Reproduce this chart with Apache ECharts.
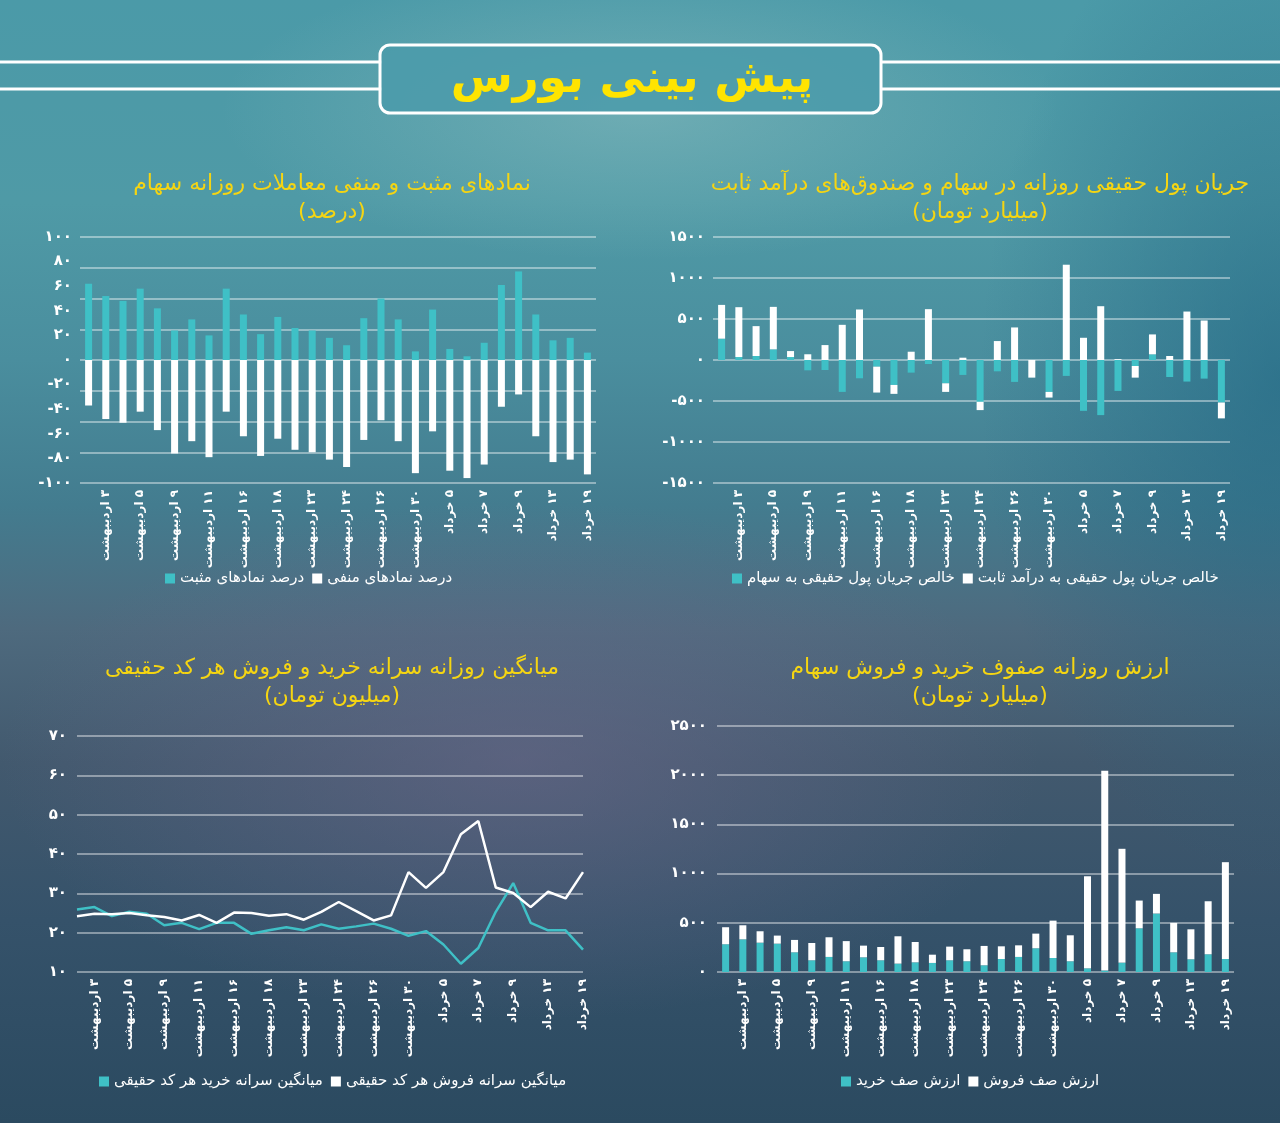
<!DOCTYPE html>
<html><head><meta charset="utf-8">
<script src="https://cdn.jsdelivr.net/npm/echarts@6/dist/echarts.min.js"></script>
<style>
html,body{margin:0;padding:0;width:1280px;height:1123px;overflow:hidden;}
#bg{position:absolute;left:0;top:0;width:1280px;height:1123px;
background:
 radial-gradient(ellipse 420px 150px at 640px 110px, rgba(150,195,195,0.45), rgba(150,195,195,0) 100%),
 radial-gradient(ellipse 520px 260px at 520px 760px, rgba(110,105,140,0.55), rgba(110,105,140,0) 100%),
 radial-gradient(ellipse 300px 500px at 1280px 380px, rgba(30,100,130,0.6), rgba(30,100,130,0) 100%),
 linear-gradient(180deg,#4b9aa8 0%,#4f9aa6 18%,#4a8e9e 32%,#437c8f 45%,#4e6a7e 56%,#42596e 68%,#35526a 82%,#2b4a60 100%);}
#c{position:absolute;left:0;top:0;width:1280px;height:1123px;}
</style></head>
<body><div id="bg"></div><div id="c"></div>
<script>
const categories = ['۲ اردیبهشت','۳ اردیبهشت','۴ اردیبهشت','۵ اردیبهشت','۸ اردیبهشت','۹ اردیبهشت','۱۰ اردیبهشت','۱۱ اردیبهشت','۱۵ اردیبهشت','۱۶ اردیبهشت','۱۷ اردیبهشت','۱۸ اردیبهشت','۱۹ اردیبهشت','۲۳ اردیبهشت','۲۲ اردیبهشت','۲۴ اردیبهشت','۲۵ اردیبهشت','۲۶ اردیبهشت','۲۹ اردیبهشت','۳۰ اردیبهشت','۲ خرداد','۵ خرداد','۶ خرداد','۷ خرداد','۸ خرداد','۹ خرداد','۱۲ خرداد','۱۳ خرداد','۱۶ خرداد','۱۹ خرداد'];

// chart 1: positive / negative symbols (%)
const posPct = [62,52,48,58,42,24,33,20,58,37,21,35,26,24,18,12,34,50,33,7,41,9,3,14,61,72,37,16,18,6];
const negPct = [-37,-48,-51,-42,-57,-76,-66,-79,-42,-62,-78,-64,-73,-75,-81,-87,-65,-49,-66,-92,-58,-90,-96,-85,-38,-28,-62,-83,-81,-93];

// chart 2: real money flow (billion toman)
const flowStock = [260,36,49,130,36,-126,-122,-389,-223,-81,-304,-154,-49,-284,-182,-510,-138,-267,0,-389,-194,-620,-672,-377,-73,69,-207,-263,-227,-518];
const flowFixed = [412,608,364,518,73,70,182,429,616,-316,-109,101,620,-105,28,-101,231,397,-215,-69,1162,271,656,10,-142,243,49,591,482,-194];

// chart 3: per-capita buy / sell (million toman)
const buyPerCap = [25.9,26.5,24.2,25.3,24.8,21.9,22.5,20.9,22.5,22.5,19.7,20.6,21.4,20.6,22.1,21.0,21.6,22.3,21.0,19.2,20.4,17.0,12.1,16.1,25.3,32.6,22.5,20.6,20.6,15.7];
const sellPerCap = [24.2,24.8,24.7,25.0,24.4,24.0,23.1,24.5,22.5,25.1,25.0,24.3,24.7,23.3,25.3,27.8,25.5,23.1,24.4,35.4,31.4,35.4,45.0,48.4,31.5,30.1,26.5,30.4,28.7,35.4];

// chart 4: buy / sell queues (billion toman)
const buyQueue = [282,332,298,288,200,119,153,109,149,119,85,98,92,119,109,68,132,153,241,142,109,37,14,95,444,594,200,129,180,132];
const sellQueue = [173,143,116,82,126,176,200,205,119,135,278,207,84,139,122,197,129,118,149,380,264,936,2031,1157,282,200,299,305,539,984];

const names = {
  pos:'درصد نمادهای مثبت', neg:'درصد نمادهای منفی',
  stock:'خالص جریان پول حقیقی به سهام', fixed:'خالص جریان پول حقیقی به درآمد ثابت',
  buyPC:'میانگین سرانه خرید هر کد حقیقی', sellPC:'میانگین سرانه فروش هر کد حقیقی',
  buyQ:'ارزش صف خرید', sellQ:'ارزش صف فروش'
};

const FONT = '"DejaVu Sans", "Noto Sans", sans-serif';
const TEAL = '#3fc0c6';
const YEL = '#f5d512';
const GRID_LINE = {show:true, lineStyle:{color:'rgba(255,255,255,0.55)', width:1.5}};
function fa(v){ return String(v).replace(/\d/g, d => '۰۱۲۳۴۵۶۷۸۹'[d]); }

const yLabel = {color:'#fff', fontWeight:'bold', fontSize:15, fontFamily:FONT, formatter:v=>fa(v)};
function xAx(gi, gap){
  return {type:'category', gridIndex:gi, data:categories, boundaryGap:gap,
    axisLine:{show:false, onZero:false}, axisTick:{show:false}, splitLine:{show:false},
    axisLabel:{color:'#fff', fontWeight:'bold', fontSize:12, fontFamily:FONT, rotate:90, margin:7,
      interval:(i)=> i % 2 === 1, formatter:v=>'\u200F' + v}};
}

const grids = [
  {left:80, width:516, top:237, height:246},
  {left:713, width:517, top:237, height:246},
  {left:77, width:506, top:736, height:236},
  {left:717, width:517, top:726, height:246}
];

function chartTitle(x, y, l1, l2){
  return {text:l1, subtext:l2, left:x, top:y, textAlign:'center', itemGap:6,
    textStyle:{color:YEL, fontSize:22, fontWeight:'normal', fontFamily:FONT},
    subtextStyle:{color:YEL, fontSize:22, fontFamily:FONT}};
}
const legendBase = {itemWidth:10, itemHeight:10, itemGap:8, icon:'rect',
  textStyle:{color:'#fff', fontSize:15, fontFamily:FONT}};

const option = {
  animation:false,
  title:[
    chartTitle(327,168,'نمادهای مثبت و منفی معاملات روزانه سهام','(درصد)'),
    chartTitle(975,168,'جریان پول حقیقی روزانه در سهام و صندوق‌های درآمد ثابت','(میلیارد تومان)'),
    chartTitle(327,652,'میانگین روزانه سرانه خرید و فروش هر کد حقیقی','(میلیون تومان)'),
    chartTitle(975,652,'ارزش روزانه صفوف خرید و فروش سهام','(میلیارد تومان)')
  ],
  graphic:[
    {type:'rect', shape:{x:0,y:60.5,width:382,height:3}, style:{fill:'#fff'}},
    {type:'rect', shape:{x:0,y:87.5,width:382,height:3}, style:{fill:'#fff'}},
    {type:'rect', shape:{x:880,y:60.5,width:400,height:3}, style:{fill:'#fff'}},
    {type:'rect', shape:{x:880,y:87.5,width:400,height:3}, style:{fill:'#fff'}},
    {type:'rect', shape:{x:380,y:45,width:501,height:68,r:10},
      style:{fill:'rgba(75,155,170,0.85)', stroke:'#fff', lineWidth:3}},
    {type:'text', x:632, y:80, style:{text:'پیش بینی بورس', fontSize:45, fontWeight:'bold',
      fontFamily:FONT, fill:'#ffe400', align:'center', verticalAlign:'middle'}}
  ],
  legend:[
    Object.assign({left:160, top:566, data:[names.pos, names.neg]}, legendBase),
    Object.assign({left:727, top:566, data:[names.stock, names.fixed]}, legendBase),
    Object.assign({left:94, top:1069, data:[names.buyPC, names.sellPC]}, legendBase),
    Object.assign({left:836, top:1069, data:[names.buyQ, names.sellQ]}, legendBase)
  ],
  grid:grids,
  xAxis:[xAx(0,true), xAx(1,true), xAx(2,false), xAx(3,true)],
  yAxis:[
    {type:'value', gridIndex:0, min:-100, max:100, interval:20, axisLabel:yLabel, splitLine:{show:false}, axisLine:{show:false}, axisTick:{show:false}},
    {type:'value', gridIndex:0, min:-100, max:100, interval:25, axisLabel:{show:false}, splitLine:GRID_LINE, axisLine:{show:false}, axisTick:{show:false}},
    {type:'value', gridIndex:1, min:-1500, max:1500, interval:500, axisLabel:Object.assign({}, yLabel, {margin:8}), splitLine:GRID_LINE, axisLine:{show:false}, axisTick:{show:false}},
    {type:'value', gridIndex:2, min:10, max:70, interval:10, axisLabel:Object.assign({}, yLabel, {margin:10}), splitLine:GRID_LINE, axisLine:{show:false}, axisTick:{show:false}},
    {type:'value', gridIndex:3, min:0, max:2500, interval:500, axisLabel:Object.assign({}, yLabel, {margin:10}), splitLine:GRID_LINE, axisLine:{show:false}, axisTick:{show:false}}
  ],
  series:[
    {name:names.pos, type:'bar', xAxisIndex:0, yAxisIndex:0, stack:'a', barWidth:7, data:posPct, itemStyle:{color:TEAL}},
    {name:names.neg, type:'bar', xAxisIndex:0, yAxisIndex:0, stack:'a', barWidth:7, data:negPct, itemStyle:{color:'#fff'}},
    {name:names.stock, type:'bar', xAxisIndex:1, yAxisIndex:2, stack:'b', barWidth:7, data:flowStock, itemStyle:{color:TEAL}},
    {name:names.fixed, type:'bar', xAxisIndex:1, yAxisIndex:2, stack:'b', barWidth:7, data:flowFixed, itemStyle:{color:'#fff'}},
    {name:names.buyPC, type:'line', xAxisIndex:2, yAxisIndex:3, data:buyPerCap, showSymbol:false, symbol:'none', lineStyle:{color:TEAL, width:2.5}, itemStyle:{color:TEAL}},
    {name:names.sellPC, type:'line', xAxisIndex:2, yAxisIndex:3, data:sellPerCap, showSymbol:false, symbol:'none', lineStyle:{color:'#fff', width:2.5}, itemStyle:{color:'#fff'}},
    {name:names.buyQ, type:'bar', xAxisIndex:3, yAxisIndex:4, stack:'c', barWidth:7, data:buyQueue, itemStyle:{color:TEAL}},
    {name:names.sellQ, type:'bar', xAxisIndex:3, yAxisIndex:4, stack:'c', barWidth:7, data:sellQueue, itemStyle:{color:'#fff'}}
  ]
};
const chart = echarts.init(document.getElementById('c'), null, {renderer:'canvas'});
chart.setOption(option);
</script>
</body></html>
